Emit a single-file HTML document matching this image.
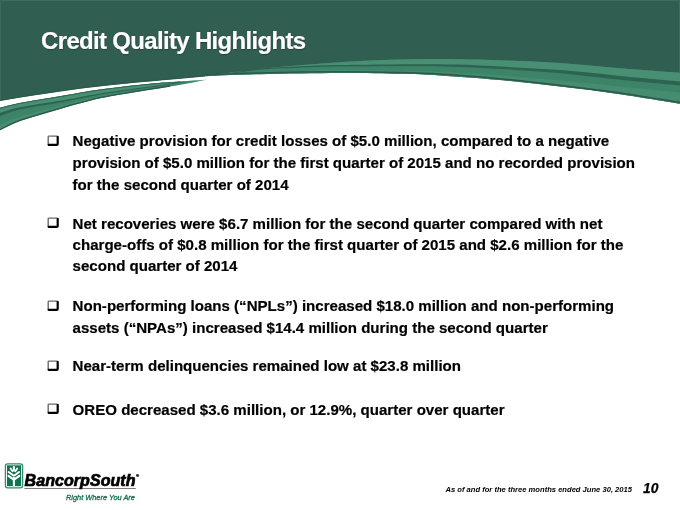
<!DOCTYPE html>
<html><head><meta charset="utf-8">
<style>
html,body{margin:0;padding:0;background:#fff;}
body{width:680px;height:510px;position:relative;overflow:hidden;font-family:"Liberation Sans",sans-serif;}
.hdr{position:absolute;left:0;top:0;}
.t{position:absolute;white-space:nowrap;line-height:1;filter:grayscale(1);}
.g{filter:none;will-change:transform;}
.title{left:41.1px;font-size:24px;letter-spacing:-0.68px;font-weight:bold;color:#fff;-webkit-text-stroke:0.2px #fff;text-shadow:0 0 1.2px rgba(15,45,35,.55),0.5px 0.6px 0.8px rgba(15,45,35,.45);}
.b{font-size:15.07px;font-weight:bold;color:#000;left:72.6px;-webkit-text-stroke:0.2px #000;}
.box{position:absolute;left:47px;width:13px;height:12px;}
.foot{font-size:7.6px;font-weight:bold;font-style:italic;color:#000;}
.num{font-size:13.85px;font-weight:bold;font-style:italic;color:#000;-webkit-text-stroke:0.25px #000;}
.logo{position:absolute;}
</style></head><body>
<svg class="hdr" width="680" height="140" viewBox="0 0 680 140">
<path d="M0,0 H680 V103.80 C670.00,102.20 640.00,97.07 620.00,94.20 C600.00,91.33 580.00,88.97 560.00,86.60 C540.00,84.23 520.00,81.87 500.00,80.00 C480.00,78.13 456.67,76.43 440.00,75.40 C423.33,74.37 416.67,74.20 400.00,73.80 C383.33,73.40 363.33,72.93 340.00,73.00 C316.67,73.07 282.50,73.65 260.00,74.20 C237.50,74.75 221.67,75.28 205.00,76.30 C188.33,77.32 174.17,79.02 160.00,80.30 C145.83,81.58 133.33,82.63 120.00,84.00 C106.67,85.37 93.33,86.78 80.00,88.50 C66.67,90.22 53.33,92.27 40.00,94.30 C26.67,96.33 6.67,99.63 0.00,100.70 Z" fill="#305e50"/>
<path d="M0.00,100.30 C6.67,99.23 26.67,95.93 40.00,93.90 C53.33,91.87 66.67,89.82 80.00,88.10 C93.33,86.38 106.67,84.97 120.00,83.60 C133.33,82.23 145.83,81.18 160.00,79.90 C174.17,78.62 197.50,76.57 205.00,75.90" fill="none" stroke="#2a5a49" stroke-width="1.2"/>
<path d="M209.00,75.40 C213.33,74.83 225.67,73.17 235.00,72.00 C244.33,70.83 254.17,69.53 265.00,68.40 C275.83,67.27 287.50,66.23 300.00,65.20 C312.50,64.17 325.00,63.10 340.00,62.20 C355.00,61.30 373.33,60.35 390.00,59.80 C406.67,59.25 421.67,58.83 440.00,58.90 C458.33,58.97 480.00,59.50 500.00,60.20 C520.00,60.90 540.00,61.75 560.00,63.10 C580.00,64.45 600.00,66.68 620.00,68.30 C640.00,69.92 670.00,72.05 680.00,72.80 L680.00,103.80 C670.00,102.20 640.00,97.07 620.00,94.20 C600.00,91.33 580.00,88.97 560.00,86.60 C540.00,84.23 520.00,81.87 500.00,80.00 C480.00,78.13 456.67,76.43 440.00,75.40 C423.33,74.37 416.67,74.20 400.00,73.80 C383.33,73.40 363.33,72.93 340.00,73.00 C316.67,73.07 282.50,73.65 260.00,74.20 C237.50,74.75 214.17,75.95 205.00,76.30 Z" fill="#3c8367"/>
<path d="M209.00,75.40 C213.33,74.83 225.67,73.17 235.00,72.00 C244.33,70.83 254.17,69.53 265.00,68.40 C275.83,67.27 287.50,66.23 300.00,65.20 C312.50,64.17 325.00,63.10 340.00,62.20 C355.00,61.30 373.33,60.35 390.00,59.80 C406.67,59.25 421.67,58.83 440.00,58.90 C458.33,58.97 480.00,59.50 500.00,60.20 C520.00,60.90 540.00,61.75 560.00,63.10 C580.00,64.45 600.00,66.68 620.00,68.30 C640.00,69.92 670.00,72.05 680.00,72.80 L680.00,85.60 C670.00,84.63 640.00,81.87 620.00,79.80 C600.00,77.73 580.00,75.00 560.00,73.20 C540.00,71.40 520.00,70.13 500.00,69.00 C480.00,67.87 466.67,66.80 440.00,66.40 C413.33,66.00 363.33,66.37 340.00,66.60 C316.67,66.83 313.33,67.27 300.00,67.80 C286.67,68.33 271.33,68.83 260.00,69.80 C248.67,70.77 236.67,72.97 232.00,73.60 Z" fill="#488f73"/>
<path d="M232.00,72.80 C236.67,72.07 248.67,69.50 260.00,68.40 C271.33,67.30 286.67,66.77 300.00,66.20 C313.33,65.63 316.67,65.32 340.00,65.00 C363.33,64.68 413.33,64.05 440.00,64.30 C466.67,64.55 480.00,65.53 500.00,66.50 C520.00,67.47 540.00,68.53 560.00,70.10 C580.00,71.67 600.00,74.02 620.00,75.90 C640.00,77.78 670.00,80.48 680.00,81.40 L680.00,85.60 C670.00,84.63 640.00,81.87 620.00,79.80 C600.00,77.73 580.00,75.00 560.00,73.20 C540.00,71.40 520.00,70.13 500.00,69.00 C480.00,67.87 466.67,66.80 440.00,66.40 C413.33,66.00 363.33,66.37 340.00,66.60 C316.67,66.83 313.33,67.27 300.00,67.80 C286.67,68.33 271.33,68.83 260.00,69.80 C248.67,70.77 236.67,72.97 232.00,73.60 Z" fill="#2d6451"/>
<path d="M300.00,70.30 C306.67,70.22 316.67,69.52 340.00,69.80 C363.33,70.08 413.33,71.03 440.00,72.00 C466.67,72.97 480.00,74.22 500.00,75.60 C520.00,76.98 540.00,78.47 560.00,80.30 C580.00,82.13 600.00,84.55 620.00,86.60 C640.00,88.65 670.00,91.60 680.00,92.60 L680.00,102.20 C670.00,100.60 640.00,95.47 620.00,92.60 C600.00,89.73 580.00,87.37 560.00,85.00 C540.00,82.63 520.00,80.27 500.00,78.40 C480.00,76.53 456.67,74.83 440.00,73.80 C423.33,72.77 416.67,72.60 400.00,72.20 C383.33,71.80 350.00,71.53 340.00,71.40 Z" fill="#458c70"/>
<path d="M205.00,75.00 C214.17,74.65 237.50,73.45 260.00,72.90 C282.50,72.35 316.67,71.77 340.00,71.70 C363.33,71.63 383.33,72.10 400.00,72.50 C416.67,72.90 423.33,73.07 440.00,74.10 C456.67,75.13 480.00,76.83 500.00,78.70 C520.00,80.57 540.00,82.93 560.00,85.30 C580.00,87.67 600.00,90.03 620.00,92.90 C640.00,95.77 670.00,100.90 680.00,102.50" fill="none" stroke="#2a5a49" stroke-width="1.5"/>
<path d="M0.00,107.80 C3.33,107.00 10.00,104.92 20.00,103.00 C30.00,101.08 46.67,98.53 60.00,96.30 C73.33,94.07 85.00,91.68 100.00,89.60 C115.00,87.52 136.67,85.13 150.00,83.80 C163.33,82.47 170.33,82.33 180.00,81.60 C189.67,80.87 203.33,79.77 208.00,79.40 L208.00,79.40 C201.67,80.60 183.00,84.33 170.00,86.60 C157.00,88.87 141.67,91.05 130.00,93.00 C118.33,94.95 111.67,95.65 100.00,98.30 C88.33,100.95 73.33,105.12 60.00,108.90 C46.67,112.68 30.00,117.43 20.00,121.00 C10.00,124.57 3.33,128.75 0.00,130.30 Z" fill="#3c8367"/>
<path d="M0.00,107.80 C3.33,107.00 10.00,104.92 20.00,103.00 C30.00,101.08 46.67,98.53 60.00,96.30 C73.33,94.07 85.00,91.68 100.00,89.60 C115.00,87.52 136.67,85.13 150.00,83.80 C163.33,82.47 170.33,82.33 180.00,81.60 C189.67,80.87 203.33,79.77 208.00,79.40 L185.00,81.90 C179.17,82.85 164.17,85.45 150.00,87.60 C135.83,89.75 115.00,92.30 100.00,94.80 C85.00,97.30 73.33,100.13 60.00,102.60 C46.67,105.07 30.00,107.33 20.00,109.60 C10.00,111.87 3.33,115.10 0.00,116.20 Z" fill="#488f73"/>
<path d="M0.00,113.00 C3.33,112.05 10.00,109.33 20.00,107.30 C30.00,105.27 46.67,103.12 60.00,100.80 C73.33,98.48 85.00,95.77 100.00,93.40 C115.00,91.03 135.83,88.57 150.00,86.60 C164.17,84.63 179.17,82.43 185.00,81.60 L185.00,81.90 C179.17,82.85 164.17,85.45 150.00,87.60 C135.83,89.75 115.00,92.30 100.00,94.80 C85.00,97.30 73.33,100.13 60.00,102.60 C46.67,105.07 30.00,107.33 20.00,109.60 C10.00,111.87 3.33,115.10 0.00,116.20 Z" fill="#2d6451"/>
<path d="M0.00,124.50 C3.33,123.17 10.00,119.62 20.00,116.50 C30.00,113.38 46.67,109.22 60.00,105.80 C73.33,102.38 88.33,98.43 100.00,96.00 C111.67,93.57 125.00,92.00 130.00,91.20 L130.00,91.60 C125.00,92.48 111.67,94.25 100.00,96.90 C88.33,99.55 73.33,103.72 60.00,107.50 C46.67,111.28 30.00,116.03 20.00,119.60 C10.00,123.17 3.33,127.35 0.00,128.90 Z" fill="#458c70"/>
<path d="M0.00,108.20 C3.33,107.40 10.00,105.32 20.00,103.40 C30.00,101.48 46.67,98.93 60.00,96.70 C73.33,94.47 85.00,92.08 100.00,90.00 C115.00,87.92 136.67,85.53 150.00,84.20 C163.33,82.87 175.00,82.37 180.00,82.00" fill="none" stroke="#2a5a49" stroke-width="0.8"/>
<path d="M0.00,129.70 C3.33,128.15 10.00,123.97 20.00,120.40 C30.00,116.83 46.67,112.08 60.00,108.30 C73.33,104.52 88.33,100.35 100.00,97.70 C111.67,95.05 118.33,94.35 130.00,92.40 C141.67,90.45 163.33,87.07 170.00,86.00" fill="none" stroke="#2a5a49" stroke-width="1.3"/>
<rect x="0" y="0" width="680" height="1" fill="#3f6d5e"/><rect x="0" y="0" width="1" height="100" fill="#3b695a"/><rect x="679" y="0" width="1" height="73" fill="#3f6d5e"/>

</svg>
<div class="t title" style="top:28.6px">Credit Quality Highlights</div>

<svg class="box" style="top:135.0px" viewBox="0 0 13 12" width="13" height="12"><path d="M1.2,9.6 V1.8 Q1.2,1.1 1.9,1.1 H10" fill="none" stroke="#6a6a6a" stroke-width="1.4"/><path d="M1.6,9.8 H9.8 Q10.7,9.8 10.7,8.9 V1.9" fill="none" stroke="#000" stroke-width="2.2" stroke-linecap="round"/></svg>
<div class="t b" style="top:133.34px">Negative provision for credit losses of $5.0 million, compared to a negative</div>
<div class="t b" style="top:155.14px">provision of $5.0 million for the first quarter of 2015 and no recorded provision</div>
<div class="t b" style="top:176.94px">for the second quarter of 2014</div>

<svg class="box" style="top:217.4px" viewBox="0 0 13 12" width="13" height="12"><path d="M1.2,9.6 V1.8 Q1.2,1.1 1.9,1.1 H10" fill="none" stroke="#6a6a6a" stroke-width="1.4"/><path d="M1.6,9.8 H9.8 Q10.7,9.8 10.7,8.9 V1.9" fill="none" stroke="#000" stroke-width="2.2" stroke-linecap="round"/></svg>
<div class="t b" style="top:215.74px">Net recoveries were $6.7 million for the second quarter compared with net</div>
<div class="t b" style="top:237.14px">charge-offs of $0.8 million for the first quarter of 2015 and $2.6 million for the</div>
<div class="t b" style="top:258.44px">second quarter of 2014</div>

<svg class="box" style="top:299.5px" viewBox="0 0 13 12" width="13" height="12"><path d="M1.2,9.6 V1.8 Q1.2,1.1 1.9,1.1 H10" fill="none" stroke="#6a6a6a" stroke-width="1.4"/><path d="M1.6,9.8 H9.8 Q10.7,9.8 10.7,8.9 V1.9" fill="none" stroke="#000" stroke-width="2.2" stroke-linecap="round"/></svg>
<div class="t b" style="top:297.84px">Non-performing loans (“NPLs”) increased $18.0 million and non-performing</div>
<div class="t b" style="top:319.54px">assets (“NPAs”) increased $14.4 million during the second quarter</div>

<svg class="box" style="top:360.1px" viewBox="0 0 13 12" width="13" height="12"><path d="M1.2,9.6 V1.8 Q1.2,1.1 1.9,1.1 H10" fill="none" stroke="#6a6a6a" stroke-width="1.4"/><path d="M1.6,9.8 H9.8 Q10.7,9.8 10.7,8.9 V1.9" fill="none" stroke="#000" stroke-width="2.2" stroke-linecap="round"/></svg>
<div class="t b" style="top:358.44px">Near-term delinquencies remained low at $23.8 million</div>

<svg class="box" style="top:403.2px" viewBox="0 0 13 12" width="13" height="12"><path d="M1.2,9.6 V1.8 Q1.2,1.1 1.9,1.1 H10" fill="none" stroke="#6a6a6a" stroke-width="1.4"/><path d="M1.6,9.8 H9.8 Q10.7,9.8 10.7,8.9 V1.9" fill="none" stroke="#000" stroke-width="2.2" stroke-linecap="round"/></svg>
<div class="t b" style="top:401.64px">OREO decreased $3.6 million, or 12.9%, quarter over quarter</div>

<!-- logo -->
<svg class="logo" style="left:0;top:455px" width="150" height="55" viewBox="0 455 150 55">
  <rect x="5.4" y="463.8" width="17.2" height="24" rx="2.2" fill="none" stroke="#2f8c68" stroke-width="1.3"/>
  <rect x="7" y="465.3" width="14.1" height="20.9" fill="#0f7450"/>
  <g stroke="#fff" stroke-linecap="round" fill="none">
    <path d="M13.9,485.4 V477.5" stroke-width="2.1"/>
    <path d="M13.9,470.4 V467" stroke-width="2.2"/>
    <path d="M12.5,471.3 L10.6,468.5 M15.3,471.3 L17.2,468.5" stroke-width="1.8"/>
    <path d="M13.1,475.3 L8.7,472 M14.7,475.3 L19.1,472" stroke-width="2"/>
    <path d="M13.4,479.4 L8.5,475.9 M14.4,479.4 L19.3,475.9" stroke-width="2.1"/>
  </g>
  <line x1="24.4" y1="488.5" x2="135.8" y2="488.5" stroke="#6e6e6e" stroke-width="0.9"/>
</svg>
<div class="t" style="left:24.6px;top:473.4px;font-size:16px;font-weight:bold;font-style:italic;color:#000;-webkit-text-stroke:0.7px #000;letter-spacing:0.06px">BancorpSouth</div>
<div class="t" style="left:135.9px;top:473.6px;font-size:4.2px;font-weight:bold;color:#000;-webkit-text-stroke:0.25px #000;">®</div>
<div class="t g" style="left:66px;top:493.6px;font-size:7.39px;font-style:italic;color:#16704f;-webkit-text-stroke:0.3px #16704f;">Right Where You Are</div>

<div class="t foot" style="left:445.5px;top:485.8px">As of and for the three months ended June 30, 2015</div>
<div class="t num" style="left:643px;top:481.8px">10</div>
</body></html>
